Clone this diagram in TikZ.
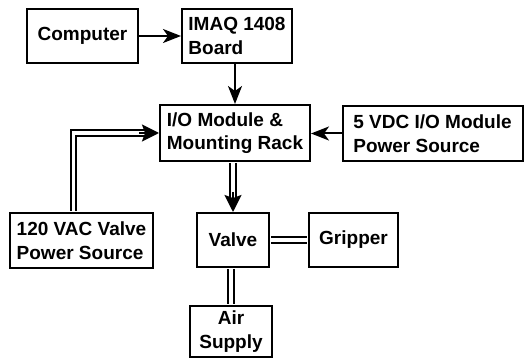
\documentclass[tikz,border=0pt]{standalone}
\usepackage{fontspec}
\setmainfont{Liberation Sans}
\usetikzlibrary{arrows.meta}
\begin{document}
\begin{tikzpicture}[x=1pt,y=-1pt,
  box/.style={draw, line width=2pt, inner sep=2pt, align=left,
    font=\fontsize{19}{23.5}\selectfont\bfseries},
  arr/.style={line width=2pt, -{Stealth[length=18pt,width=14pt,inset=5pt]}},
  dbl/.style={line width=2pt, double, double distance=3.5pt},
  dbltip/.style={line width=2pt, -{Stealth[length=17pt,width=17pt,inset=3pt]}},
]
\useasboundingbox (0,0) rectangle (525,358);
\node[box, minimum width=111pt, minimum height=54pt] (comp) at (82.5,36) {Computer};
\node[box, minimum width=110pt, minimum height=54pt] (imaq) at (237,36) {IMAQ 1408\\Board};
\node[box, minimum width=150pt, minimum height=56pt] (io) at (235,133) {I/O Module \&\\Mounting Rack};
\node[box, minimum width=180pt, minimum height=55pt] (vdc) at (432.5,133.5) {5 VDC I/O Module\\Power Source};
\node[box, minimum width=143pt, minimum height=55pt] (vac) at (81.5,240.5) {120 VAC Valve\\Power Source};
\node[box, minimum width=72pt, minimum height=54pt] (valve) at (233,240) {Valve};
\node[box, minimum width=89pt, minimum height=54pt] (grip) at (353.5,240) {Gripper};
\node[box, align=center, minimum width=82pt, minimum height=51pt] (air) at (231,331.5) {Air\\Supply};

\draw[arr] (comp.east) -- (imaq.west |- comp.east);
\draw[arr] (io.north |- imaq.south) -- (io.north);
\draw[arr] (vdc.west) -- (vdc.west -| io.east);
\draw[dbl, shorten <=1pt, shorten >=13pt] ([xshift=-8pt]vac.north) |- (io.west);
\draw[dbltip] ([xshift=-20pt]io.west) -- (io.west);
\draw[dbl, shorten <=1pt, shorten >=13pt] (valve.north |- io.south) -- (valve.north);
\draw[dbltip] ([yshift=20pt]valve.north) -- (valve.north);
\draw[dbl, shorten <=1pt, shorten >=1pt] (valve.east) -- (grip.west);
\draw[dbl, shorten <=1pt, shorten >=1pt] (air.north |- valve.south) -- (air.north);
\end{tikzpicture}
\end{document}
